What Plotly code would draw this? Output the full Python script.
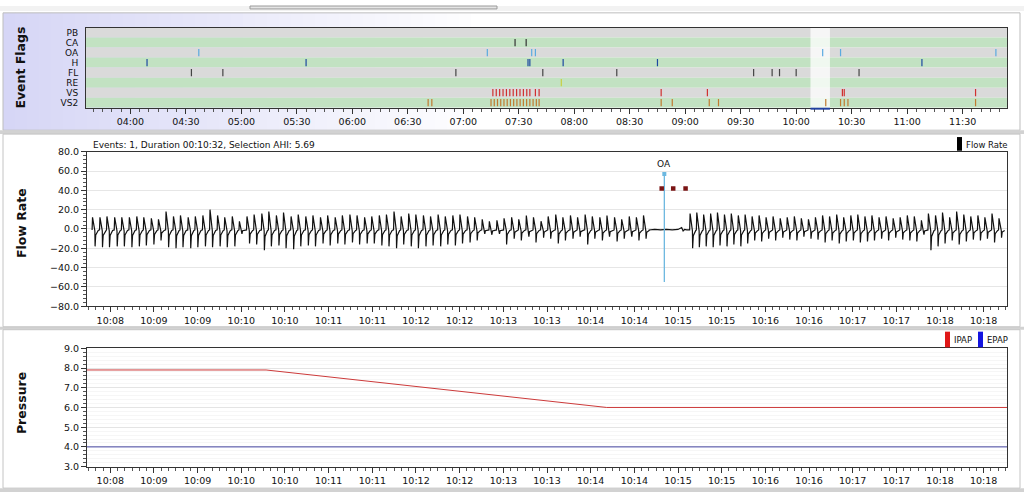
import plotly.graph_objects as go
import pandas as pd

W, H = 1024, 499
DAY = "2013-06-01"

# ---------------- Event Flags (overview) data ----------------
flag_rows = ["PB", "CA", "OA", "H", "FL", "RE", "VS", "VS2"]
session_start, session_end = "03:36:00", "11:54:00"
overview_ticks = ["04:00", "04:30", "05:00", "05:30", "06:00", "06:30", "07:00", "07:30",
                  "08:00", "08:30", "09:00", "09:30", "10:00", "10:30", "11:00", "11:30"]
ev_PB = []
ev_CA = ["07:28", "07:34"]
ev_OA = ["04:37", "07:13", "07:37", "07:39", "10:14:20", "10:24", "11:48"]
ev_H = ["04:09", "05:35", "07:35", "07:36", "07:54", "08:45", "11:08"]
ev_FL = ["04:33", "04:50", "06:56", "07:43", "08:23", "09:37", "09:47", "09:51", "10:00", "10:34"]
ev_RE = ["07:53"]
ev_VS = ["07:16", "07:17:50", "07:19:40", "07:21:30", "07:23:20", "07:25:10", "07:27", "07:28:50",
         "07:30:40", "07:32:30", "07:34:20", "07:36", "07:39", "07:41", "08:47", "09:12", "10:25",
         "10:26", "11:37"]
ev_VS2 = ["06:41", "06:43", "07:15", "07:16:45", "07:18:30", "07:20:15", "07:22", "07:23:45",
          "07:25:30", "07:27:15", "07:29", "07:30:45", "07:32:30", "07:34:15", "07:36", "07:37:45",
          "07:39:30", "07:41", "08:47", "08:53", "09:13", "09:18", "10:16", "10:24", "10:26",
          "10:28", "11:37"]
selection_start, selection_end = "10:07:44", "10:18:16"

# ---------------- Flow Rate (selection) data ----------------
# seconds from 10:07:44
detail_ticks_sec = [16, 46, 76, 106, 136, 166, 196, 226, 256, 286, 316, 346, 376, 406, 436,
                    466, 496, 526, 556, 586, 616]
detail_tick_labels = ["10:08", "10:09", "10:09", "10:10", "10:10", "10:11", "10:11", "10:12",
                      "10:12", "10:13", "10:13", "10:14", "10:14", "10:15", "10:15", "10:16",
                      "10:16", "10:17", "10:17", "10:18", "10:18"]
detail_duration = 632

onsets_pre = [3.5, 8.6, 13.4, 18.7, 23.6, 28.8, 33.9, 38.7, 43.9, 48.8, 54.0, 59.1, 63.9, 69.2,
              74.1, 79.3, 84.2, 89.4, 94.3, 99.5, 104.4, 109.6, 114.5, 119.8, 124.6, 129.8, 134.7,
              139.9, 144.8, 150.0, 154.9, 160.1, 165.0, 170.2, 175.1, 180.3, 185.2, 190.4, 195.3,
              200.5, 205.4, 210.6, 215.5, 220.7, 225.6, 230.8, 235.7, 240.9, 245.8, 251.0, 255.9,
              261.1, 266.0, 271.2, 276.1, 281.3, 286.2, 291.4, 296.3, 301.5, 306.4, 311.6, 316.5,
              321.7, 326.6, 331.8, 336.7, 341.9, 346.8, 352.0, 356.9, 362.1, 367.0, 372.2, 377.1,
              382.0]
peaks_pre = [12, 12, 13, 12, 12, 12, 13, 12, 11, 10, 18, 13, 14, 12, 13, 14, 20, 14, 12,
             13, 8, 13, 15, 16, 18, 14, 17, 13, 15, 13, 14, 12, 14, 12, 14, 15, 14, 12,
             13, 14, 15, 18, 13, 16, 15, 14, 13, 15, 13, 14, 15, 13, 12, 10, 8, 9, 11,
             12, 10, 14, 12, 8, 13, 15, 12, 14, 12, 15, 13, 12, 14, 12, 10, 13, 12, 14]
troughs_pre = [-18, -19, -19, -18, -18, -19, -18, -17, -16, -12, -19, -20, -19, -20, -19, -18, -19, -18, -19,
               -18, -5, -15, -16, -22, -18, -17, -20, -21, -18, -17, -18, -15, -17, -15, -16, -14, -16, -15,
               -15, -17, -18, -20, -16, -18, -20, -18, -17, -18, -16, -17, -15, -14, -12, -5, -6, -5, -16,
               -10, -12, -8, -14, -9, -10, -15, -12, -10, -8, -16, -10, -12, -8, -13, -10, -8, -12, -10]
apnea_t = [386.2, 390.0, 394.0, 398.0, 402.0, 406.0, 408.5, 409.5, 410.5, 412.0, 414.0]
apnea_v = [-1, -0.5, -1, -0.5, -1, -0.5, 1.5, -2, -0.5, -1, -1]
onsets_post = [414.0, 418.6, 423.3, 428.1, 432.8, 437.6, 442.3, 447.1, 451.8, 456.6, 461.4, 466.2,
               471.0, 475.9, 480.7, 485.6, 490.4, 495.3, 500.1, 505.0, 509.8, 514.7, 519.5, 524.4,
               529.2, 534.1, 538.9, 543.8, 548.6, 553.5, 558.3, 563.2, 568.0, 572.9, 577.7, 582.6,
               587.4, 592.3, 597.1, 602.0, 606.8, 611.7, 616.5, 621.4, 626.2]
peaks_post = [16, 17, 15, 16, 17, 15, 16, 14, 15, 13, 14, 12, 13, 11, 12, 13, 11, 10, 12, 14,
              13, 15, 12, 14, 15, 13, 14, 12, 13, 11, 12, 14, 13, 9, 16, 14, 17, 12, 18, 15,
              13, 14, 12, 16, 11]
troughs_post = [-20, -19, -18, -19, -17, -18, -16, -18, -15, -12, -13, -10, -12, -9, -11, -12, -8,
                -10, -11, -14, -12, -15, -13, -12, -14, -13, -12, -10, -12, -9, -11, -12, -13, -6,
                -22, -18, -15, -12, -16, -13, -11, -12, -10, -14, -9]

oa_event_sec = 396.6
oa_event_range = [-55, 57]
flag_marks_sec = [394.8, 402.7, 411.2]
flag_marks_value = [42, 42, 42]

# ---------------- Pressure data ----------------
pressure_sec = [0, 123, 357, 632]
ipap = [7.9, 7.9, 6.0, 6.0]
epap = [4.0, 4.0, 4.0, 4.0]

# ---------------- helpers ----------------
T0 = pd.Timestamp(f"{DAY} {selection_start}")


def clock(s):
    if s.count(":") == 1:
        s = s + ":00"
    return f"{DAY} {s}"


def at(sec):
    return T0 + pd.Timedelta(seconds=sec)


def X(px):
    return px / W


def Y(py):
    return 1 - py / H


# breath shape template
def breath(t0, p, q):
    rel = [0.0, 0.3, 1.9, 2.05, 2.5, 4.2]
    val = [-1, p, -2, q, 0.35 * q, -1.5]
    return [t0 + r for r in rel], val


fx, fy = [], []
for t0, p, q in zip(onsets_pre, peaks_pre, troughs_pre):
    a, b = breath(t0, p, q)
    fx += a
    fy += b
fx += apnea_t
fy += apnea_v
for t0, p, q in zip(onsets_post, peaks_post, troughs_post):
    a, b = breath(t0, p, q)
    fx += a
    fy += b
flow_x = [at(s) for s in fx]

fig = go.Figure()

# ---------- event flag marks ----------
flag_colors = {"PB": "#7a4a9a", "CA": "#333333", "OA": "#5aaae0", "H": "#1c48a0", "FL": "#444444",
               "RE": "#c8d040", "VS": "#d03030", "VS2": "#c07a30"}
flag_events = {"PB": ev_PB, "CA": ev_CA, "OA": ev_OA, "H": ev_H, "FL": ev_FL, "RE": ev_RE,
               "VS": ev_VS, "VS2": ev_VS2}
nrows = len(flag_rows)
for i, name in enumerate(flag_rows):
    r = nrows - 1 - i
    xs, ys = [], []
    for t in flag_events[name]:
        xs += [clock(t), clock(t), None]
        ys += [r - 0.36, r + 0.36, None]
    fig.add_trace(go.Scatter(x=xs, y=ys, mode="lines", line=dict(color=flag_colors[name], width=1.2),
                             xaxis="x", yaxis="y", showlegend=False, hoverinfo="skip"))

# ---------- flow ----------
fig.add_trace(go.Scatter(x=flow_x, y=fy, mode="lines", line=dict(color="#111111", width=1.2),
                         xaxis="x2", yaxis="y2", showlegend=False))
fig.add_trace(go.Scatter(x=[at(oa_event_sec), at(oa_event_sec)], y=oa_event_range, mode="lines",
                         line=dict(color="#6cb8e0", width=1.3), xaxis="x2", yaxis="y2",
                         showlegend=False))
fig.add_trace(go.Scatter(x=[at(oa_event_sec)], y=[oa_event_range[1]], mode="markers",
                         marker=dict(symbol="square", size=4, color="#6cb8e0"),
                         xaxis="x2", yaxis="y2", showlegend=False))
fig.add_trace(go.Scatter(x=[at(s) for s in flag_marks_sec], y=flag_marks_value, mode="markers",
                         marker=dict(symbol="square", size=4.5, color="#7a1414"),
                         xaxis="x2", yaxis="y2", showlegend=False))

# ---------- pressure ----------
fig.add_trace(go.Scatter(x=[at(s) for s in pressure_sec], y=ipap, mode="lines",
                         line=dict(color="#cc3a3a", width=1), xaxis="x3", yaxis="y3",
                         showlegend=False))
fig.add_trace(go.Scatter(x=[at(s) for s in pressure_sec], y=epap, mode="lines",
                         line=dict(color="#4a4aa8", width=1), xaxis="x3", yaxis="y3",
                         showlegend=False))

# ---------- shapes ----------
shapes = []
shapes.append(dict(type="rect", xref="paper", yref="paper", x0=0, x1=1, y0=Y(5), y1=1,
                   fillcolor="#f2f2f2", line=dict(width=0), layer="below"))
shapes.append(dict(type="rect", xref="paper", yref="paper", x0=X(250), x1=X(497), y0=Y(3), y1=1,
                   fillcolor="#e4e4e4", line=dict(color="#9a9a9a", width=1), layer="below"))
steps = 40
for k in range(steps):
    f = k / (steps - 1)
    c = (int(214 + (255 - 214) * f), int(214 + (255 - 214) * f), int(246 + (255 - 246) * f))
    x0 = 3 + k * 12
    shapes.append(dict(type="rect", xref="paper", yref="paper", x0=X(x0), x1=X(x0 + 12.5),
                       y0=Y(127), y1=Y(7), fillcolor=f"rgb{c}", line=dict(width=0), layer="below"))
shapes.append(dict(type="rect", xref="paper", yref="paper", x0=X(3), x1=X(1020), y0=Y(127), y1=Y(7),
                   fillcolor="rgba(0,0,0,0)", line=dict(color="#bdbdbd", width=1), layer="below"))
for y0, y1 in [(127, 131), (328, 331), (493, 497)]:
    shapes.append(dict(type="rect", xref="paper", yref="paper", x0=0, x1=1, y0=Y(y1), y1=Y(y0),
                       fillcolor="#d2d2d2", line=dict(width=0), layer="below"))
for y0, y1 in [(131, 328), (331, 493)]:
    shapes.append(dict(type="rect", xref="paper", yref="paper", x0=X(3), x1=X(1020), y0=Y(y1), y1=Y(y0),
                       fillcolor="white", line=dict(color="#c4c4c4", width=1), layer="below"))

for i, name in enumerate(flag_rows):
    r = nrows - 1 - i
    shapes.append(dict(type="rect", xref="x domain", yref="y", x0=0, x1=1, y0=r - 0.5, y1=r + 0.5,
                       fillcolor="#dadada" if i % 2 == 0 else "#c2e2c2", line=dict(width=0),
                       layer="below"))
shapes.append(dict(type="rect", xref="x", yref="y domain", x0=clock(selection_start),
                   x1=clock(selection_end), y0=0, y1=1, fillcolor="rgba(255,255,255,0.75)",
                   line=dict(width=0), layer="below"))
shapes.append(dict(type="rect", xref="x", yref="paper", x0=clock(selection_start),
                   x1=clock(selection_end), y0=Y(106), y1=Y(104), fillcolor="#2040a0",
                   line=dict(width=0)))
shapes.append(dict(type="rect", xref="paper", yref="paper", x0=X(957), x1=X(962), y0=Y(148), y1=Y(134),
                   fillcolor="#000000", line=dict(width=0)))
shapes.append(dict(type="rect", xref="paper", yref="paper", x0=X(945), x1=X(950), y0=Y(349), y1=Y(333),
                   fillcolor="#e01818", line=dict(width=0)))
shapes.append(dict(type="rect", xref="paper", yref="paper", x0=X(978), x1=X(983), y0=Y(349), y1=Y(333),
                   fillcolor="#1414e0", line=dict(width=0)))

FONT = "DejaVu Sans"
ann = []
for text, yc in [("Event Flags", 63), ("Flow Rate", 222), ("Pressure", 406)]:
    ann.append(dict(text=f"<b>{text}</b>", x=X(21), y=Y(yc), xref="paper", yref="paper",
                    xanchor="center", yanchor="middle",
                    textangle=-90, showarrow=False, font=dict(family=FONT, size=12.5, color="#111")))
ann.append(dict(text="Events: 1, Duration 00:10:32, Selection AHI: 5.69", x=X(91), y=Y(142),
                xref="paper", yref="paper", xanchor="left", yanchor="middle", showarrow=False,
                font=dict(family=FONT, size=9, color="#111")))
ann.append(dict(text="Flow Rate", x=X(964), y=Y(142), xref="paper", yref="paper", xanchor="left",
                yanchor="middle", showarrow=False, font=dict(family=FONT, size=8.5, color="#111")))
ann.append(dict(text="IPAP", x=X(952), y=Y(342), xref="paper", yref="paper", xanchor="left",
                yanchor="middle", showarrow=False, font=dict(family=FONT, size=8.5, color="#111")))
ann.append(dict(text="EPAP", x=X(985), y=Y(342), xref="paper", yref="paper", xanchor="left",
                yanchor="middle", showarrow=False, font=dict(family=FONT, size=8.5, color="#111")))
ann.append(dict(text="OA", x=at(oa_event_sec), y=oa_event_range[1], xref="x2", yref="y2",
                xanchor="center", yanchor="bottom", yshift=3, showarrow=False,
                font=dict(family=FONT, size=9, color="#111")))

tickfont = dict(family=FONT, size=9.5, color="#111")
axline = dict(showline=True, linecolor="#333333", linewidth=1, mirror=True)
detail_range = [at(0), at(detail_duration)]
detail_tickvals = [at(s) for s in detail_ticks_sec]

fig.update_layout(
    width=W, height=H, margin=dict(l=0, r=0, t=0, b=0),
    paper_bgcolor="white", plot_bgcolor="rgba(0,0,0,0)",
    shapes=shapes, annotations=ann, showlegend=False,
    xaxis=dict(domain=[X(86), X(1007)], anchor="y", type="date",
               range=[clock(session_start), clock(session_end)],
               tickmode="array", tickvals=[clock(t) for t in overview_ticks], ticktext=overview_ticks,
               ticks="outside", ticklen=5, tickcolor="#333", tickfont=tickfont, showgrid=False,
               minor=dict(ticks="outside", ticklen=3, tickcolor="#555", dtick=300000,
                          tick0=clock("04:00"), showgrid=False),
               **axline),
    yaxis=dict(domain=[Y(104), Y(22)], anchor="x", range=[-0.5, nrows - 0.5],
               tickmode="array", tickvals=list(range(nrows)), ticktext=flag_rows[::-1],
               ticks="", showgrid=False, zeroline=False, ticklabelstandoff=5,
               tickfont=dict(family=FONT, size=9, color="#111"), **axline),
    xaxis2=dict(domain=[X(87), X(1007)], anchor="y2", type="date", range=detail_range,
                tickmode="array", tickvals=detail_tickvals, ticktext=detail_tick_labels,
                ticks="outside", ticklen=5, tickcolor="#333", tickfont=tickfont, showgrid=False,
                minor=dict(ticks="outside", ticklen=3, tickcolor="#555", dtick=5000,
                           tick0=at(16), showgrid=False),
                **axline),
    yaxis2=dict(domain=[Y(307), Y(149)], anchor="x2", range=[-80, 80], dtick=20, tick0=0,
                tickformat=".1f", ticks="outside", ticklen=5, tickcolor="#333", tickfont=tickfont,
                showgrid=True, gridcolor="#e6e6e6", zeroline=False,
                minor=dict(ticks="outside", ticklen=3, tickcolor="#555", dtick=4, showgrid=False),
                **axline),
    xaxis3=dict(domain=[X(87), X(1007)], anchor="y3", type="date", range=detail_range,
                tickmode="array", tickvals=detail_tickvals, ticktext=detail_tick_labels,
                ticks="outside", ticklen=5, tickcolor="#333", tickfont=tickfont, showgrid=False,
                minor=dict(ticks="outside", ticklen=3, tickcolor="#555", dtick=5000,
                           tick0=at(16), showgrid=False),
                **axline),
    yaxis3=dict(domain=[Y(471), Y(350)], anchor="x3", range=[3, 9], dtick=1, tick0=3,
                tickformat=".1f", ticks="outside", ticklen=5, tickcolor="#333", tickfont=tickfont,
                showgrid=True, gridcolor="#e4e4e4", zeroline=False,
                minor=dict(ticks="outside", ticklen=3, tickcolor="#555", dtick=0.2,
                           showgrid=True, gridcolor="#f6f6f6"),
                **axline),
)

fig.write_html("out.html", config={"displayModeBar": False},
               post_script="document.body.style.margin='0px';")
